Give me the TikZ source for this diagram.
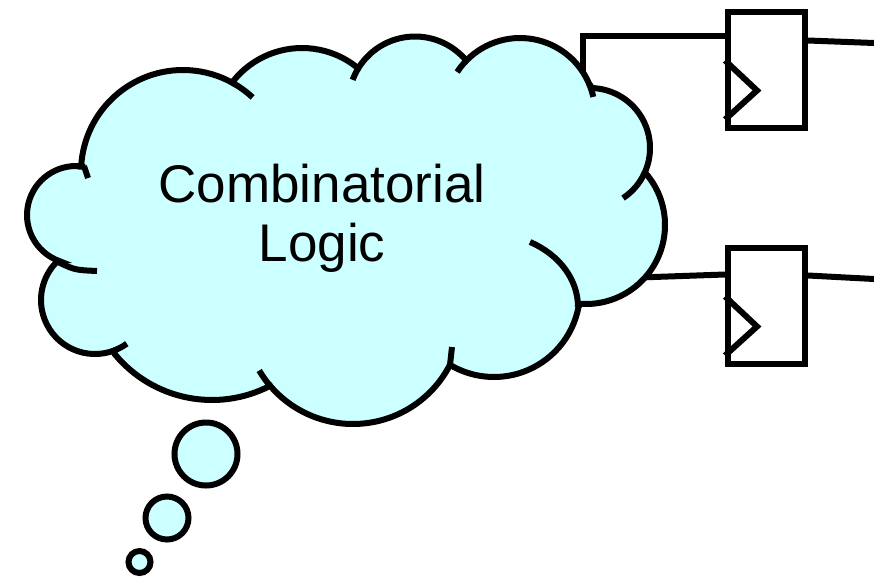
\documentclass[tikz,border=0pt]{standalone}
\usepackage{fontspec}
\setmainfont{Liberation Sans}
\usetikzlibrary{calc}
\definecolor{cloudcyan}{HTML}{CCFFFF}
\tikzset{
  ff/.style={rectangle, draw, fill=white, line width=6pt, minimum width=77pt, minimum height=116pt, inner sep=0pt},
  wire/.style={line width=6pt},
  cloud/.style={fill=cloudcyan, draw=black, line width=6pt},
  crease/.style={line width=6pt},
  bubble/.style={circle, draw, fill=cloudcyan, line width=6pt, inner sep=0pt}
}

\begin{document}
\begin{tikzpicture}[x=1pt, y=-1pt]
			\useasboundingbox (0,0) rectangle (874,576);
			
			% Flip-flops
			\node[ff] (ffA) at (766.5,69.5) {};
			\node[ff] (ffB) at (766.5,305.5) {};
			
			% Clock inputs
			\draw[wire] ($(ffA.south west)+(0,-70)$) -- ($(ffA.south west)+(32,-40)$) -- ($(ffA.south west)+(0,-11)$);
			\draw[wire] ($(ffB.south west)+(0,-70)$) -- ($(ffB.south west)+(32,-40)$) -- ($(ffB.south west)+(0,-11)$);
			
			% Wires
			\coordinate (srcA) at (583,95);
			\coordinate (srcB) at (625,278);
			\coordinate (outA) at (874,43);
			\coordinate (outB) at (874,279);
			\draw[wire] (srcA) |- ($(ffA.north west)+(0,27)$);
			\draw[wire] (srcB) -- ($(ffB.north west)+(0,30)$);
			\draw[wire] ($(ffA.north east)+(0,32)$) -- (outA);
			\draw[wire] ($(ffB.north east)+(0,31)$) -- (outB);
			
			% Centres of the cloud bumps
			\coordinate (cL) at (76,215);
			\coordinate (cUL) at (183,172);
			\coordinate (cTb) at (302,136);
			\coordinate (cTc) at (415,103);
			\coordinate (cTd) at (520,113);
			\coordinate (cRU) at (590,148);
			\coordinate (cRL) at (586,225);
			\coordinate (cBR) at (494,291);
			\coordinate (cBM) at (353,315);
			\coordinate (cBL) at (212,274);
			\coordinate (cLL) at (95,300);
			
			% Cloud outline
			\filldraw[cloud]
			($(cL)+(108.8:49)$) arc[start angle=108.8, end angle=280.6, radius=49]
			-- ($(cUL)+(183:102)$) arc[start angle=183, end angle=299, radius=102]
			-- ($(cTb)+(218:88)$) arc[start angle=218, end angle=308.6, radius=88]
			-- ($(cTc)+(211.8:66.5)$) arc[start angle=211.8, end angle=316.2, radius=66.5]
			-- ($(cTd)+(224.5:75)$) arc[start angle=224.5, end angle=336.8, radius=75]
			-- ($(cRU)+(272:60)$) arc[start angle=272, end angle=384.4, radius=60]
			-- ($(cRL)+(-41.4:79)$) arc[start angle=-41.4, end angle=94.3, radius=79]
			-- ($(cBR)+(10.8:86)$) arc[start angle=10.8, end angle=120.7, radius=86]
			-- ($(cBM)+(27.3:109)$) arc[start angle=27.3, end angle=139.5, radius=109]
			-- ($(cBL)+(62.6:126)$) arc[start angle=62.6, end angle=140.5, radius=126]
			-- ($(cLL)+(69:54)$) arc[start angle=69, end angle=225, radius=54]
			-- cycle;
			
			% Creases
			\draw[crease] (84,166) -- (88,178);
			\draw[crease] ($(cUL)+(299:102)$) arc[start angle=299, end angle=313, radius=102];
			\draw[crease] ($(cTc)+(200.4:66.5)$) arc[start angle=200.4, end angle=211.8, radius=66.5];
			\draw[crease] ($(cTd)+(213.1:75)$) arc[start angle=213.1, end angle=224.5, radius=75];
			\draw[crease] ($(cTd)+(336.8:75)$) arc[start angle=336.8, end angle=347.6, radius=75];
			\draw[crease] ($(cRU)+(24.4:60)$) arc[start angle=24.4, end angle=56.6, radius=60];
			\draw[crease] (578,307) .. controls (578,280) and (560,255) .. (530,242);
			\draw[crease] (450,365) -- (452,347);
			\draw[crease] ($(cBM)+(139.5:109)$) arc[start angle=139.5, end angle=149.4, radius=109];
			\draw[crease] ($(cLL)+(53.9:54)$) arc[start angle=53.9, end angle=69, radius=54];
			\draw[crease] (58,262) .. controls (75,270) .. (97,271);
			
			% Label
			\node[font=\fontsize{53}{59}\selectfont, align=center] (logic) at (322,218) {Combinatorial\\Logic};
			
			% Thought bubbles
			\node[bubble, minimum size=63pt] (bubA) at (206,454) {};
			\node[bubble, minimum size=43pt] (bubB) at (167,518) {};
			\node[bubble, minimum size=22pt] (bubC) at (139.5,562) {};
\end{tikzpicture}
\end{document}
